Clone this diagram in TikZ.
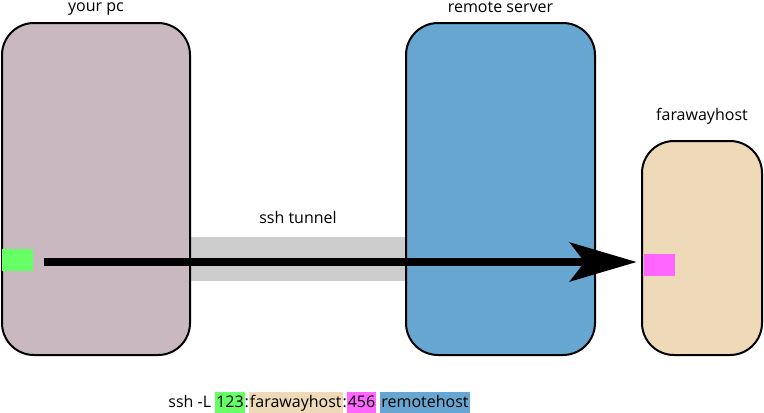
\documentclass[tikz,border=0pt]{standalone}
\usepackage{fontspec}
\setmainfont{Open Sans}
\definecolor{pcmauve}{RGB}{201, 184, 192}
\definecolor{serverblue}{RGB}{102, 166, 208}
\definecolor{hosttan}{RGB}{238, 217, 185}
\definecolor{portgreen}{RGB}{102, 255, 102}
\definecolor{portpink}{RGB}{255, 102, 255}
\definecolor{tunnelgray}{RGB}{204, 204, 204}
\usepackage{tikz}
\usetikzlibrary{arrows.meta, positioning}
\newcommand{\hlpart}[2]{{\setlength{\fboxsep}{0.75pt}\colorbox{#1}{\rule[-4pt]{0pt}{14.5pt}#2}}}

\begin{document}
\begin{tikzpicture}[x=0.75pt, y=-0.75pt, font=\fontsize{12pt}{14pt}\selectfont,
  hostbox/.style={draw=black, line width=1.5pt, rounded corners=24pt, inner sep=0pt},
  portbox/.style={minimum width=23.25pt, minimum height=16.5pt, inner sep=0pt},
  hostlabel/.style={anchor=base}]
  \useasboundingbox (0,0) rectangle (764,412);

  % Tunnel (behind the hosts)
  \node[fill=tunnelgray, minimum width=160.5pt, minimum height=33pt, inner sep=0pt] (tunnel) at (298,259) {};
  \node[hostlabel] (tunnellabel) at (298,223) {ssh tunnel};

  % Hosts
  \node[hostbox, fill=pcmauve, minimum width=141pt, minimum height=249pt] (pc) at (96,189) {};
  \node[hostbox, fill=serverblue, minimum width=141.75pt, minimum height=249pt] (server) at (500.5,189) {};
  \node[hostbox, fill=hosttan, minimum width=90pt, minimum height=160.5pt] (farhost) at (702,248) {};

  \node[hostlabel] (pclabel) at (96,11) {your pc};
  \node[hostlabel] (serverlabel) at (500.5,12) {remote server};
  \node[hostlabel] (farhostlabel) at (702,120) {farawayhost};

  % Ports
  \node[portbox, fill=portgreen] (localport) at (17.5,260) {};
  \node[portbox, fill=portpink] (remoteport) at (659.5,265) {};

  \draw[line width=6pt, -{Stealth[length=50pt, width=29pt, inset=11pt]}]
    ([shift={(11,2)}]localport.east) -- ([shift={(-7,-3)}]remoteport.west);

  % Command
  \node[anchor=base] (command) at (319,407) {ssh -L \hlpart{portgreen}{123}:\hlpart{hosttan}{farawayhost}:\hlpart{portpink}{456} \hlpart{serverblue}{remotehost}};
\end{tikzpicture}
\end{document}
